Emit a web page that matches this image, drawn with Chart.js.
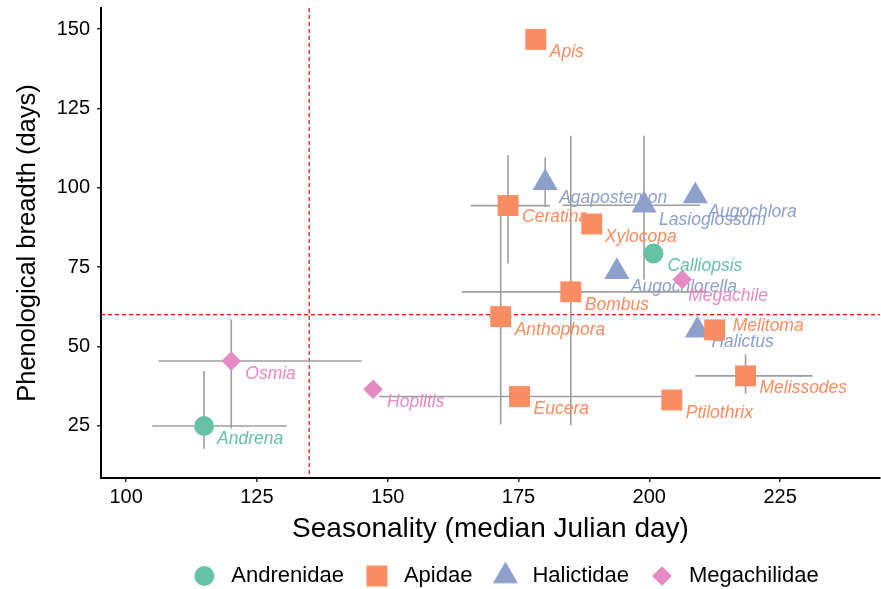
<!DOCTYPE html>
<html><head><meta charset="utf-8">
<script src="https://cdn.jsdelivr.net/npm/chart.js@4.4.1/dist/chart.umd.min.js"></script>
<style>html,body{margin:0;padding:0;background:#fff;}canvas{display:block;}</style>
</head><body>
<canvas id="c" width="881" height="589"></canvas>
<script>
// ---------------- data ----------------
const genera      = ['Andrena','Calliopsis','Apis','Ceratina','Xylocopa','Bombus','Anthophora','Melitoma','Melissodes','Eucera','Ptilothrix','Agapostemon','Lasioglossum','Augochlora','Augochlorella','Halictus','Osmia','Hoplitis','Megachile'];
const families    = ['Andrenidae','Andrenidae','Apidae','Apidae','Apidae','Apidae','Apidae','Apidae','Apidae','Apidae','Apidae','Halictidae','Halictidae','Halictidae','Halictidae','Halictidae','Megachilidae','Megachilidae','Megachilidae'];
const seasonality = [114.9, 200.8, 178.3, 173.0, 189.0, 185.0, 171.6, 212.5, 218.4, 175.2, 204.3, 180.1, 199.0, 208.8, 193.8, 209.2, 120.1, 147.2, 206.3];
const breadth     = [24.9, 79.3, 146.8, 94.4, 88.6, 67.2, 59.4, 55.2, 40.7, 34.2, 33.1, 101.6, 94.5, 97.4, 73.5, 55.1, 45.4, 36.5, 71.1];
const seasonLow   = [105.0, null, null, 165.9, null, 164.2, 169.4, null, 208.8, 148.4, null, null, 183.4, null, null, null, 106.2, null, null];
const seasonHigh  = [130.7, null, null, 181.0, null, 211.0, 173.7, null, 231.2, 203.0, null, null, 209.7, null, null, null, 145.0, null, null];
const breadthLow  = [17.7, null, null, 76.1, null, 25.1, 25.4, null, 35.1, null, null, 94.0, 71.0, null, null, null, 24.1, null, null];
const breadthHigh = [42.2, null, null, 110.3, null, 116.4, 94.5, null, 47.5, null, null, 109.6, 116.4, null, null, null, 58.5, null, null];
const familyNames = ['Andrenidae','Apidae','Halictidae','Megachilidae'];
const xTicks = [100, 125, 150, 175, 200, 225];
const yTicks = [25, 50, 75, 100, 125, 150];
const seasonalityCutoff = 135;
const breadthCutoff = 60;

// ---------------- styles ----------------
const familyColors = {Andrenidae:'#66C2A5', Apidae:'#FC8D62', Halictidae:'#8DA0CB', Megachilidae:'#E78AC3'};
const familyShapes = {Andrenidae:'circle', Apidae:'rect', Halictidae:'triangle', Megachilidae:'rectRot'};
const familyRadius = {Andrenidae:10, Apidae:14.8, Halictidae:14.5, Megachilidae:9.8};
// label offsets in pixels (dx, dy) from each point
const labelDx = [13,14,14,14,13,14,14,18,14,14,14,14,15,13,14,14,14,14,6];
const labelDy = [13,13,13,12,13,13,14,-4,12,13,13,15,15,16,15,12,13,13,17];

const FONT = '"Liberation Sans", Arial, Helvetica, sans-serif';
Chart.defaults.font.family = FONT;
Chart.defaults.color = '#000';

function makeSymbol(shape, r, color) {
  const s = Math.ceil(2 * r + 4);
  const cv = document.createElement('canvas');
  cv.width = s; cv.height = s;
  const g = cv.getContext('2d');
  const c = s / 2;
  g.fillStyle = color;
  g.beginPath();
  if (shape === 'circle') {
    g.arc(c, c, r, 0, Math.PI * 2);
  } else if (shape === 'rect') {
    const h = r * Math.SQRT1_2;
    g.rect(c - h, c - h, 2 * h, 2 * h);
  } else if (shape === 'triangle') {
    const w = r * Math.sin(Math.PI * 2 / 3);
    g.moveTo(c, c - r); g.lineTo(c + w, c + r / 2); g.lineTo(c - w, c + r / 2); g.closePath();
  } else {
    g.moveTo(c, c - r); g.lineTo(c + r, c); g.lineTo(c, c + r); g.lineTo(c - r, c); g.closePath();
  }
  g.fill();
  return cv;
}

const datasets = familyNames.map(f => ({
  label: f,
  data: genera.map((g, i) => ({x: seasonality[i], y: breadth[i], i})).filter(p => families[p.i] === f),
  pointStyle: familyShapes[f],
  pointRadius: familyRadius[f],
  pointHoverRadius: familyRadius[f],
  backgroundColor: familyColors[f],
  borderWidth: 0,
  showLine: false
}));

const whiteBg = {
  id: 'whiteBg',
  beforeDraw(chart) {
    const ctx = chart.ctx; ctx.save(); ctx.fillStyle = '#fff';
    ctx.fillRect(0, 0, chart.width, chart.height); ctx.restore();
  }
};

const legendShift = 13;
const shiftLegend = {
  id: 'shiftLegend',
  afterLayout(chart) { if (chart.legend) { chart.legend.left += legendShift; chart.legend.right += legendShift; } }
};

const underlay = {
  id: 'underlay',
  beforeDatasetsDraw(chart) {
    const {ctx, chartArea: a, scales: {x, y}} = chart;
    ctx.save();
    ctx.beginPath(); ctx.rect(a.left, a.top, a.right - a.left, a.bottom - a.top); ctx.clip();
    // reference lines
    ctx.strokeStyle = '#FF0000'; ctx.lineWidth = 1.2; ctx.setLineDash([4, 3]);
    const rx = x.getPixelForValue(seasonalityCutoff);
    ctx.beginPath(); ctx.moveTo(rx, a.top); ctx.lineTo(rx, a.bottom); ctx.stroke();
    const ry = y.getPixelForValue(breadthCutoff);
    ctx.beginPath(); ctx.moveTo(a.left, ry); ctx.lineTo(a.right, ry); ctx.stroke();
    ctx.setLineDash([]);
    // error bars
    ctx.strokeStyle = '#9E9E9E'; ctx.lineWidth = 1.6;
    for (let i = 0; i < genera.length; i++) {
      const px = x.getPixelForValue(seasonality[i]);
      const py = y.getPixelForValue(breadth[i]);
      if (seasonLow[i] != null) {
        ctx.beginPath(); ctx.moveTo(x.getPixelForValue(seasonLow[i]), py); ctx.lineTo(x.getPixelForValue(seasonHigh[i]), py); ctx.stroke();
      }
      if (breadthLow[i] != null) {
        ctx.beginPath(); ctx.moveTo(px, y.getPixelForValue(breadthLow[i])); ctx.lineTo(px, y.getPixelForValue(breadthHigh[i])); ctx.stroke();
      }
    }
    // labels
    ctx.font = 'italic 17.5px ' + FONT;
    ctx.textAlign = 'left'; ctx.textBaseline = 'middle';
    for (let i = 0; i < genera.length; i++) {
      ctx.fillStyle = familyColors[families[i]];
      ctx.fillText(genera[i], x.getPixelForValue(seasonality[i]) + labelDx[i], y.getPixelForValue(breadth[i]) + labelDy[i]);
    }
    ctx.restore();
  }
};

function noEdgePadding(s) {
  s.paddingLeft = 0; s.paddingRight = 0; s.paddingTop = 0; s.paddingBottom = 0;
}

new Chart(document.getElementById('c'), {
  type: 'scatter',
  data: {datasets},
  plugins: [whiteBg, shiftLegend, underlay],
  options: {
    responsive: false, animation: false, devicePixelRatio: 1,
    layout: {autoPadding: false, padding: {left: 0, right: 1, top: 8, bottom: -8}},
    events: [],
    plugins: {
      tooltip: {enabled: false},
      legend: {
        position: 'bottom', fullSize: false,
        labels: {
          usePointStyle: true, pointStyleWidth: 32, padding: 17,
          font: {size: 22}, color: '#000',
          generateLabels(chart) {
            return familyNames.map((f, i) => ({
              text: f, datasetIndex: i, hidden: false, lineWidth: 0,
              fillStyle: familyColors[f], strokeStyle: familyColors[f],
              pointStyle: makeSymbol(familyShapes[f], familyRadius[f], familyColors[f])
            }));
          }
        }
      }
    },
    scales: {
      x: {
        type: 'linear', min: 95.2, max: 244.1,
        afterBuildTicks(s) { s.ticks = xTicks.map(v => ({value: v})); },
        afterFit(s) { s.height = 70; noEdgePadding(s); },
        ticks: {font: {size: 20}, color: '#000', padding: 3, maxRotation: 0},
        grid: {display: true, drawOnChartArea: false, drawTicks: true, tickLength: 4, color: '#333', lineWidth: 1.5},
        border: {display: true, color: '#000', width: 2},
        title: {display: true, text: 'Seasonality (median Julian day)', font: {size: 28}, color: '#000', padding: {top: 0, bottom: 2}}
      },
      y: {
        type: 'linear', min: 8.5, max: 156.7,
        afterBuildTicks(s) { s.ticks = yTicks.map(v => ({value: v})); },
        afterFit(s) { s.width = 101; noEdgePadding(s); },
        ticks: {font: {size: 20}, color: '#000', padding: 7},
        grid: {display: true, drawOnChartArea: false, drawTicks: true, tickLength: 4, color: '#333', lineWidth: 1.5},
        border: {display: true, color: '#000', width: 2},
        title: {display: true, text: 'Phenological breadth (days)', font: {size: 25.5}, color: '#000', padding: {top: 13, bottom: 0}}
      }
    }
  }
});
</script>
</body></html>
